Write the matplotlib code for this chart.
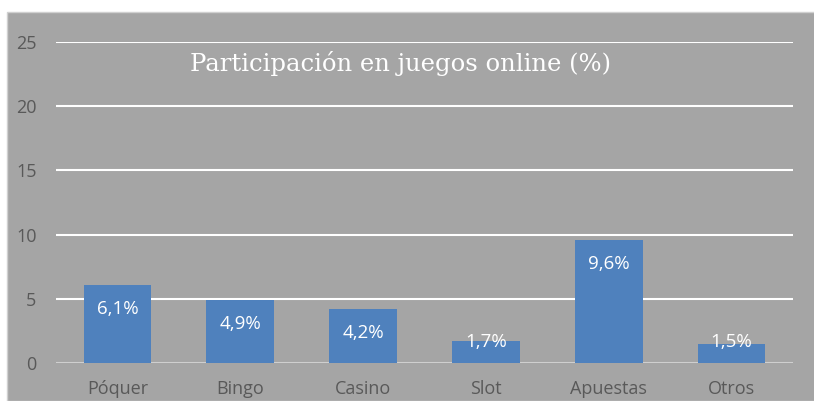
import matplotlib.pyplot as plt
from matplotlib.patches import Rectangle

categories = ["Póquer", "Bingo", "Casino", "Slot", "Apuestas", "Otros"]
values = [6.1, 4.9, 4.2, 1.7, 9.6, 1.5]
labels = ["6,1%", "4,9%", "4,2%", "1,7%", "9,6%", "1,5%"]
yticks = [0, 5, 10, 15, 20, 25]

bg = "#a5a5a5"
bar_color = "#4f81bd"
tick_color = "#595959"

fig = plt.figure(figsize=(8.14, 4.01), dpi=100)
fig.patch.set_facecolor("white")
# gray chart area under a thin white strip at the top
fig.add_artist(Rectangle((7 / 814, 0), 1, 1 - 12 / 401, transform=fig.transFigure,
                         facecolor=bg, edgecolor="#d0d0d0", lw=1, zorder=0))

ax = fig.add_axes([56 / 814, 1 - 363 / 401, 737 / 814, 321 / 401])
ax.set_facecolor("none")
ax.set_xlim(-0.5, len(categories) - 0.5)
ax.set_ylim(0, 25)

for y in yticks[1:]:
    ax.axhline(y, color="white", lw=1.5, zorder=1)
ax.axhline(0, color="#cfcfcf", lw=1.5, zorder=1)

x = range(len(categories))
ax.bar(x, values, width=0.55, color=bar_color, zorder=2)

for i, (v, lab) in enumerate(zip(values, labels)):
    ax.text(i, max(v - 1.87, 1.64), lab, ha="center", va="center",
            color="white", fontsize=13.5, family="Open Sans", zorder=3)

ax.set_yticks(yticks)
ax.set_xticks(list(x))
ax.set_xticklabels(categories)
ax.tick_params(length=0, colors=tick_color, labelsize=13, pad=12)
ax.tick_params(axis="y", pad=14)
for t in ax.get_xticklabels() + ax.get_yticklabels():
    t.set_family("Open Sans")
for s in ax.spines.values():
    s.set_visible(False)

fig.text(401 / 814, 1 - 64 / 401, "Participación en juegos online (%)",
         ha="center", va="center", color="white", fontsize=17.5,
         family="DejaVu Serif", fontweight="light")

fig.savefig("out.png", dpi=100)
